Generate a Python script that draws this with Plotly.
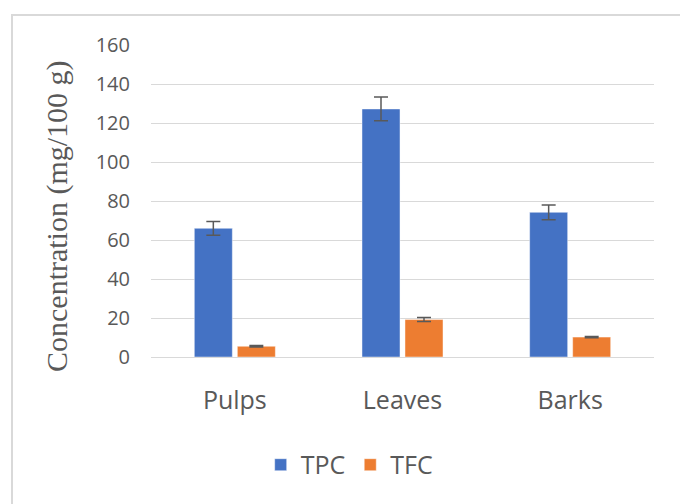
import plotly.graph_objects as go

categories = ["Pulps", "Leaves", "Barks"]
tpc = [66, 127.2, 74.2]
tpc_err = [3.5, 6.1, 3.8]
tfc = [5.5, 19.2, 10.2]
tfc_err = [0.4, 1.0, 0.3]
y_ticks = [0, 20, 40, 60, 80, 100, 120, 140, 160]
y_title = "Concentration (mg/100 g)"

SANS = "Open Sans, Liberation Sans, sans-serif"
fig = go.Figure()
err_style = dict(type="data", color="#595959", thickness=1.5, width=7, visible=True)
fig.add_trace(go.Bar(
    name="TPC", x=categories, y=tpc,
    error_y=dict(array=tpc_err, **err_style),
    marker=dict(color="#4472C4", line=dict(color="rgba(255,255,255,0.45)", width=1)),
))
fig.add_trace(go.Bar(
    name="TFC", x=categories, y=tfc,
    error_y=dict(array=tfc_err, **err_style),
    marker=dict(color="#ED7D31", line=dict(color="rgba(255,255,255,0.45)", width=1)),
))

fig.update_layout(
    width=680, height=504,
    margin=dict(l=151, r=26, t=45, b=147),
    paper_bgcolor="white", plot_bgcolor="white",
    barmode="group", bargap=0.487, bargroupgap=0.116,
    showlegend=True,
    legend=dict(orientation="h", x=0.394, xanchor="center", y=-0.346, yanchor="middle",
                font=dict(family=SANS, size=25, color="#595959"),
                itemwidth=30, tracegroupgap=0),
    shapes=[dict(type="rect", xref="paper", yref="paper",
                 x0=(12 - 151) / 503, x1=(690 - 151) / 503,
                 y0=(357 - 520) / 312, y1=(357 - 15) / 312,
                 line=dict(color="#d9d9d9", width=2), layer="below")],
    annotations=[dict(text=y_title, textangle=-90, showarrow=False,
                      xref="paper", yref="paper",
                      x=(57 - 151) / 503, y=(357 - 216) / 312,
                      xanchor="center", yanchor="middle",
                      font=dict(family="Liberation Serif, Times New Roman, serif", size=30, color="#595959"))],
)
fig.update_xaxes(
    showgrid=False, showline=False, zeroline=False,
    tickfont=dict(family=SANS, size=25, color="#595959"),
    ticks="", ticklabelstandoff=26,
)
fig.update_yaxes(
    range=[0, 160], tickvals=y_ticks, ticktext=[str(v) for v in y_ticks],
    showgrid=True, gridcolor="#d9d9d9", gridwidth=1,
    zeroline=True, zerolinecolor="#d9d9d9", zerolinewidth=1,
    showline=False, ticks="",
    tickfont=dict(family=SANS, size=20, color="#595959"),
    ticklabelstandoff=20,
)

fig.write_html("out.html", config={"displayModeBar": False},
               post_script="document.body.style.margin='0';document.body.style.padding='0';")
